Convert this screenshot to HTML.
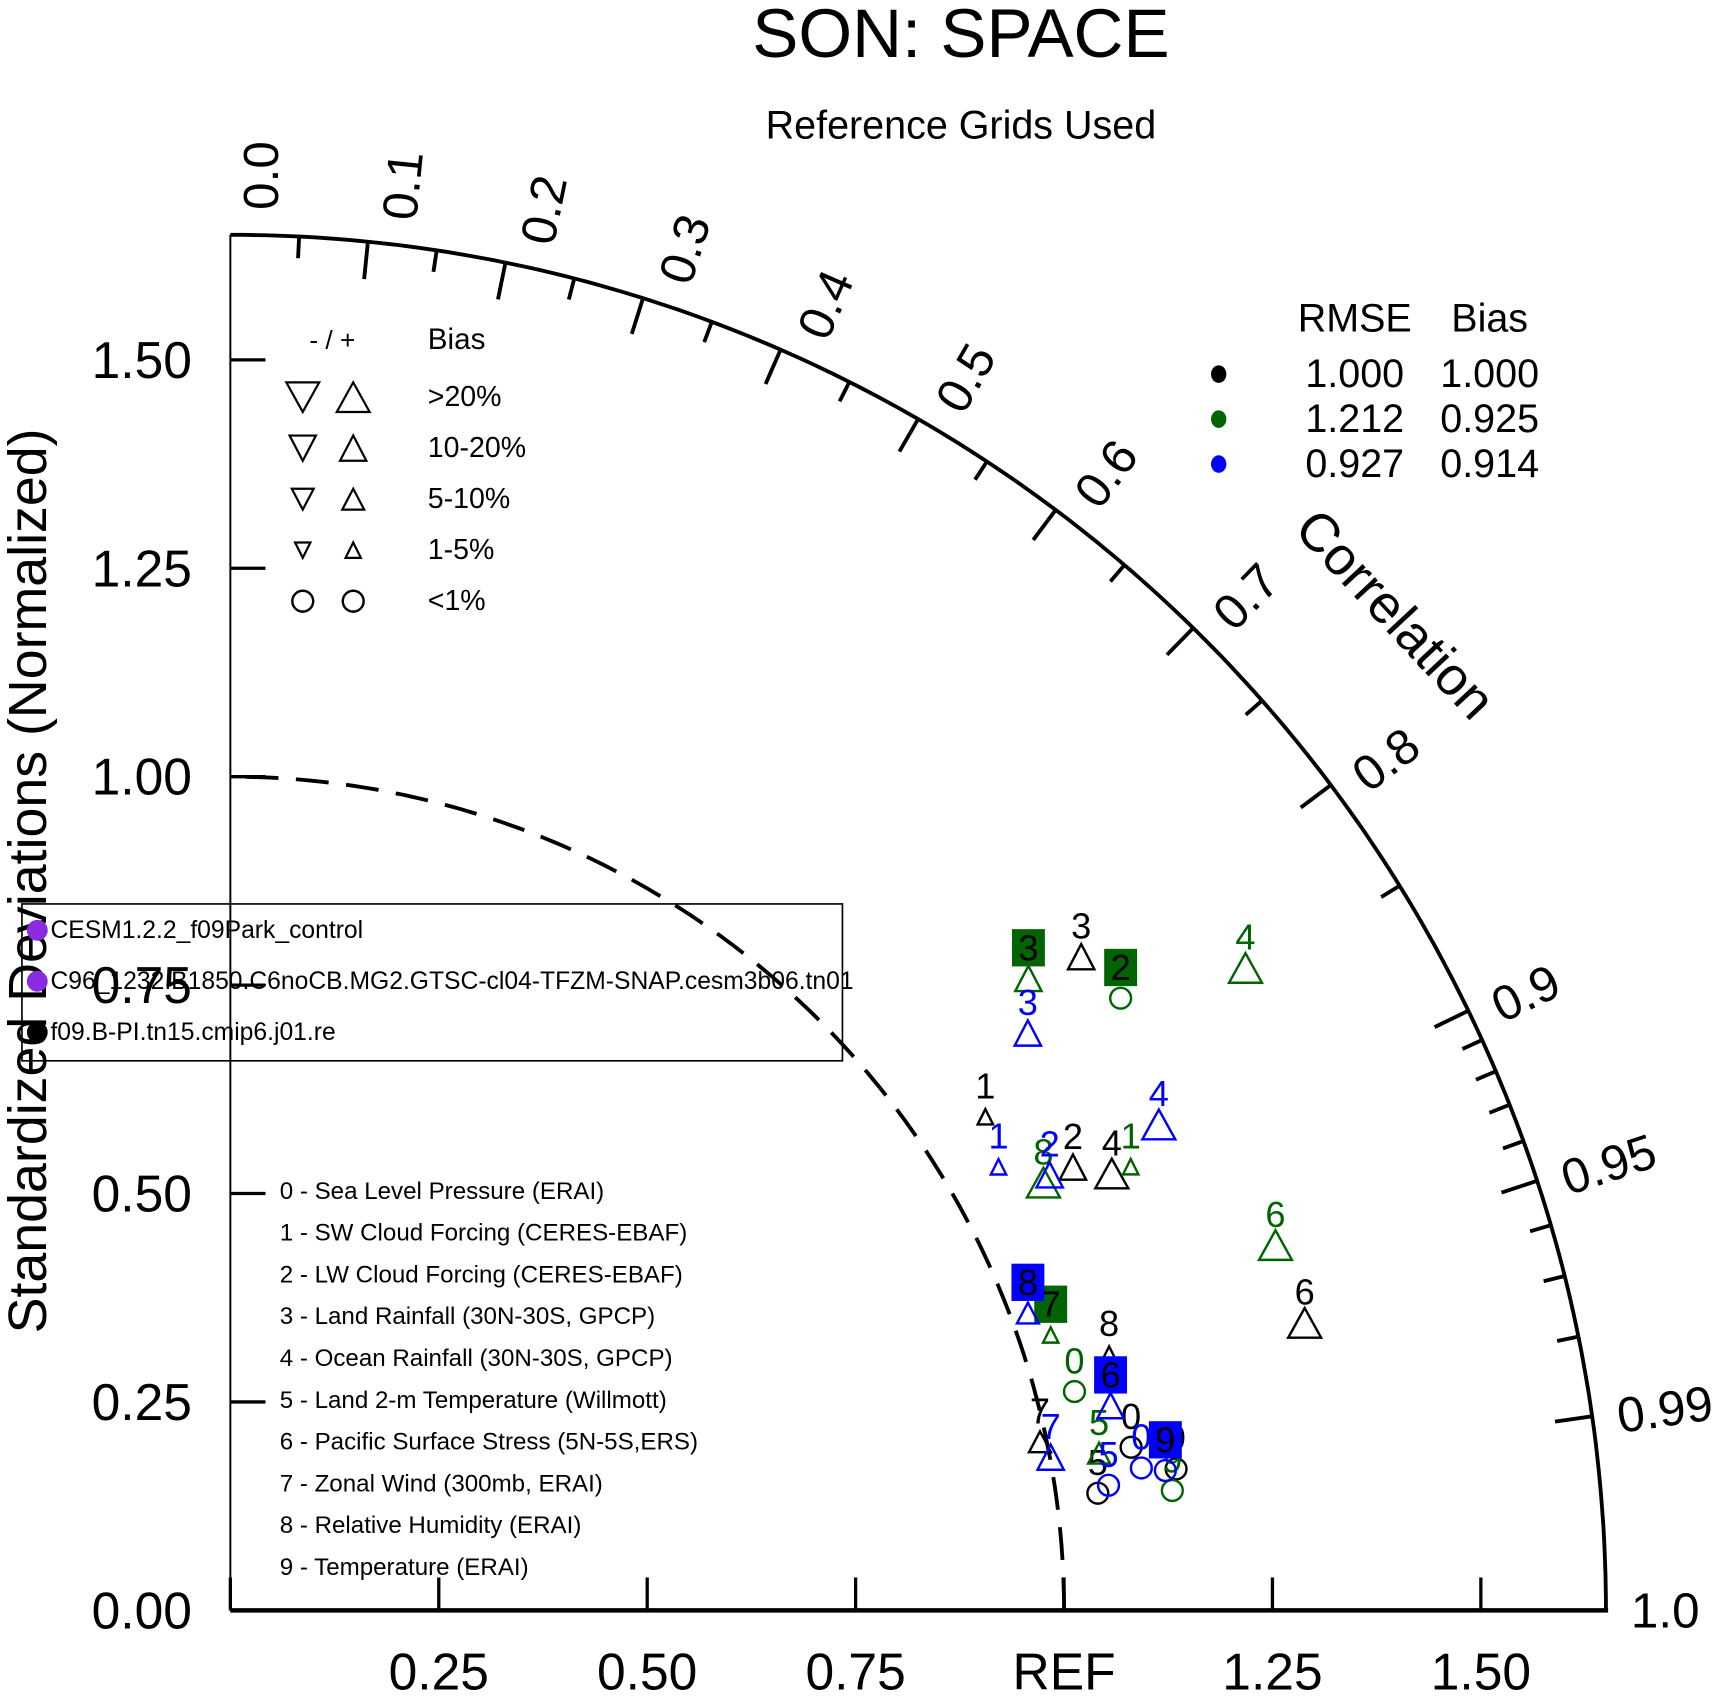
<!DOCTYPE html>
<html><head><meta charset="utf-8"><style>
html,body{margin:0;padding:0;background:#fff;}
svg{display:block;font-family:"Liberation Sans",Arial,sans-serif;}
</style></head><body>
<svg id="chart" width="1720" height="1696" viewBox="0 0 1568 1546" xmlns="http://www.w3.org/2000/svg">
<text x="876" y="52" font-size="63" text-anchor="middle">SON: SPACE</text>
<text x="876" y="126" font-size="36" text-anchor="middle">Reference Grids Used</text>
<text transform="translate(42,803) rotate(-90)" font-size="49" text-anchor="middle">Standardized Deviations (Normalized)</text>
<text transform="translate(1272,560) rotate(47)" font-size="49" text-anchor="middle" dominant-baseline="central">Correlation</text>
<g id="axes"></g>
<g id="legends"></g>
<g id="marks"></g>
</svg>
<script>
const seriesColors = ["#000000", "#006400", "#0000ff"];
const varLabels = ["0 - Sea Level Pressure (ERAI)","1 - SW Cloud Forcing (CERES-EBAF)","2 - LW Cloud Forcing (CERES-EBAF)","3 - Land Rainfall (30N-30S, GPCP)","4 - Ocean Rainfall (30N-30S, GPCP)","5 - Land 2-m Temperature (Willmott)","6 - Pacific Surface Stress (5N-5S,ERS)","7 - Zonal Wind (300mb, ERAI)","8 - Relative Humidity (ERAI)","9 - Temperature (ERAI)"];
const stdBlack = [1.098,1.082,1.142,1.287,1.180,1.050,1.334,0.992,1.098,1.147];
const corBlack = [0.984,0.837,0.885,0.793,0.896,0.991,0.966,0.979,0.960,0.989];
const stdGreen = [1.046,1.204,1.296,1.221,1.441,1.059,1.328,1.038,1.102,1.139];
const corGreen = [0.968,0.897,0.824,0.784,0.845,0.984,0.944,0.948,0.885,0.992];
const stdBlue = [1.106,1.064,1.113,1.181,1.257,1.064,1.084,1.001,1.021,1.134];
const corBlue = [0.988,0.866,0.883,0.810,0.886,0.990,0.974,0.983,0.937,0.989];
const biasBlack = [0,1,3,3,4,0,4,2,1,0];
const biasGreen = [0,1,0,3,4,2,4,1,4,0];
const biasBlue = [0,1,3,3,4,0,3,3,2,0];
const boxBlack = [0,0,0,0,0,0,0,0,0,0];
const boxGreen = [0,0,1,1,0,0,0,1,0,0];
const boxBlue = [0,0,0,0,0,0,1,0,1,1];
const yTicks = [0,0.25,0.5,0.75,1.0,1.25,1.5];
const yTickLabels = ["0.00","0.25","0.50","0.75","1.00","1.25","1.50"];
const xTicks = [0.25,0.5,0.75,1.0,1.25,1.5];
const xTickLabels = ["0.25","0.50","0.75","REF","1.25","1.50"];
const corrMajor = [0.0,0.1,0.2,0.3,0.4,0.5,0.6,0.7,0.8,0.9,0.95,0.99,1.0];
const corrMajorLabels = ["0.0","0.1","0.2","0.3","0.4","0.5","0.6","0.7","0.8","0.9","0.95","0.99","1.0"];
const corrMinor = [0.05,0.15,0.25,0.35,0.45,0.55,0.65,0.75,0.85,0.91,0.92,0.93,0.94,0.96,0.97,0.98];
const caseNames = ["CESM1.2.2_f09Park_control","C96_1232.B1850.C6noCB.MG2.GTSC-cl04-TFZM-SNAP.cesm3b06.tn01","f09.B-PI.tn15.cmip6.j01.re"];
const caseColors = ["#8a2be2","#8a2be2","#000000"];
const rmseVals = ["1.000","1.212","0.927"];
const biasVals = ["1.000","0.925","0.914"];
const maxStd = 1.65;

const NS = "http://www.w3.org/2000/svg";
const OX = 210, OY = 1468, U = 760;
const sx = v => OX + v*U;
const sy = v => OY - v*U;
function polar(r, c){ const t = Math.acos(c); return [OX + r*U*Math.cos(t), OY - r*U*Math.sin(t)]; }
function mk(tag, attrs, parent, txt){
  const e = document.createElementNS(NS, tag);
  for (const k in attrs) e.setAttribute(k, attrs[k]);
  if (txt !== undefined) e.textContent = txt;
  parent.appendChild(e); return e;
}
const axes = document.getElementById("axes");
const leg = document.getElementById("legends");
const marks = document.getElementById("marks");

let e;
e = mk("line",{x1:OX,y1:OY,x2:sx(maxStd)+2,y2:OY,stroke:"#000","stroke-width":4},axes);
 
e = mk("line",{x1:OX,y1:OY,x2:OX,y2:sy(maxStd),stroke:"#000","stroke-width":1.8},axes);
 
e = mk("line",{x1:OX,y1:OY,x2:OX,y2:OY-30,stroke:"#000","stroke-width":3},axes);
 
let d = ""; for (let i=0;i<=180;i++){ const a=i/180*Math.PI/2; d += (i?"L":"M")+(OX+maxStd*U*Math.cos(a)).toFixed(1)+","+(OY-maxStd*U*Math.sin(a)).toFixed(1); }
e = mk("path",{d:d,fill:"none",stroke:"#000","stroke-width":3.5},axes);
 
d = ""; for (let i=0;i<=180;i++){ const a=i/180*Math.PI/2; d += (i?"L":"M")+(OX+U*Math.cos(a)).toFixed(1)+","+(OY-U*Math.sin(a)).toFixed(1); }
e = mk("path",{d:d,fill:"none",stroke:"#000","stroke-width":3.5,"stroke-dasharray":"30 16"},axes);
 

yTicks.forEach((v,i)=>{
  const t = mk("line",{x1:OX,y1:sy(v),x2:OX+32,y2:sy(v),stroke:"#000","stroke-width":3},axes);
   
  const l = mk("text",{x:175,y:sy(v),"font-size":47,"text-anchor":"end","dominant-baseline":"central"},axes,yTickLabels[i]);
   
});
xTicks.forEach((v,i)=>{
  const t = mk("line",{x1:sx(v),y1:OY,x2:sx(v),y2:OY-30,stroke:"#000","stroke-width":3},axes);
   
  const l = mk("text",{x:sx(v),y:1540,"font-size":47,"text-anchor":"middle"},axes,xTickLabels[i]);
   
});
corrMajor.forEach((c,i)=>{
  const th = Math.acos(c)*180/Math.PI;
  if (c>0 && c<1){
    const p1 = polar(maxStd,c), p2 = polar(maxStd-0.045,c);
    const t = mk("line",{x1:p1[0],y1:p1[1],x2:p2[0],y2:p2[1],stroke:"#000","stroke-width":3.5},axes);
     
  }
  const p = polar(1.68,c);
  const dy = (0.35 + 0.62*th/90).toFixed(2)+"em";
  const l = mk("text",{x:p[0],y:p[1],dy:dy,"font-size":45,transform:`rotate(${-th} ${p[0]} ${p[1]})`},axes,corrMajorLabels[i]);
   
});
corrMinor.forEach(c=>{
  const p1 = polar(maxStd,c), p2 = polar(maxStd-0.026,c);
  const t = mk("line",{x1:p1[0],y1:p1[1],x2:p2[0],y2:p2[1],stroke:"#000","stroke-width":3.5},axes);
   
});

function tri(g, x, y, size, color){
  const hw = [0,7,10,12,15][size], h = [0,14,19,23,27][size];
  return mk("polygon",{points:`${x-hw},${y+h/2} ${x+hw},${y+h/2} ${x},${y-h/2}`,fill:"none",stroke:color,"stroke-width":2.2},g);
}
function circ(g,x,y,color){ return mk("circle",{cx:x,cy:y,r:9.5,fill:"none",stroke:color,"stroke-width":2.2},g); }

const allStd = [stdBlack,stdGreen,stdBlue], allCor=[corBlack,corGreen,corBlue], allBias=[biasBlack,biasGreen,biasBlue], allBox=[boxBlack,boxGreen,boxBlue];
const seriesNames = ["case-black","case-green","case-blue"];
allStd.forEach((stds,s)=>{
  const g = mk("g",{},marks);
   
  stds.forEach((sd,i)=>{
    const p = polar(sd, allCor[s][i]);
    const col = seriesColors[s];
    const b = allBias[s][i];
    const m = b===0 ? circ(g,p[0],p[1],col) : tri(g,p[0],p[1],b,col);
     
    const ly = p[1]-28;
    if (allBox[s][i]){
      const r = mk("rect",{x:p[0]-15,y:ly-17,width:30,height:34,fill:col},g);
       
    }
    const t = mk("text",{x:p[0],y:ly,"font-size":33,"text-anchor":"middle","dominant-baseline":"central",fill:allBox[s][i]?"#000":col},g,String(i));
     
  });
});

const bl = mk("g",{},leg);
 
e = mk("text",{x:303,y:318,"font-size":24,"text-anchor":"middle"},bl,"- / +");  
e = mk("text",{x:390,y:318,"font-size":27},bl,"Bias");  
const biasRowLabels = [">20%","10-20%","5-10%","1-5%","<1%"];
biasRowLabels.forEach((lab,k)=>{
  const y = 362 + k*46.5; const size = 4-k;
  if (size>0){
    const hw=[0,7,10,12,15][size], h=[0,14,19,23,27][size];
    e = mk("polygon",{points:`${276-hw},${y-h/2} ${276+hw},${y-h/2} 276,${y+h/2}`,fill:"none",stroke:"#000","stroke-width":2},bl);
     
    e = tri(bl,322,y,size,"#000"); e.setAttribute('stroke-width',2);
     
  } else {
    e = circ(bl,276,y,"#000");  
    e = circ(bl,322,y,"#000");  
  }
  e = mk("text",{x:390,y:y,"font-size":26,"dominant-baseline":"central"},bl,lab);
   
});

const rl = mk("g",{},leg);
 
e = mk("text",{x:1235,y:302,"font-size":36,"text-anchor":"middle"},rl,"RMSE");  
e = mk("text",{x:1358,y:302,"font-size":36,"text-anchor":"middle"},rl,"Bias");  
rmseVals.forEach((v,k)=>{
  const y = 341 + k*41;
  e = mk("ellipse",{cx:1111,cy:y,rx:7,ry:8,fill:seriesColors[k]},rl);  
  e = mk("text",{x:1235,y:y,"font-size":36,"text-anchor":"middle","dominant-baseline":"central"},rl,v);  
  e = mk("text",{x:1358,y:y,"font-size":36,"text-anchor":"middle","dominant-baseline":"central"},rl,biasVals[k]);  
});

const cl = mk("g",{},leg);
 
e = mk("rect",{x:20,y:824,width:748,height:143,fill:"none",stroke:"#000","stroke-width":1.5},cl);
 
caseNames.forEach((n,k)=>{
  const y = 848 + k*46.5;
  e = mk("circle",{cx:34,cy:y,r:9.5,fill:caseColors[k]},cl);  
  e = mk("text",{x:46,y:y,"font-size":22.5,"dominant-baseline":"central"},cl,n);  
});

const vl = mk("g",{},leg);
 
varLabels.forEach((n,k)=>{
  e = mk("text",{x:255,y:1086+k*38.1,"font-size":22,"dominant-baseline":"central"},vl,n);
   
});
</script>
</body></html>
